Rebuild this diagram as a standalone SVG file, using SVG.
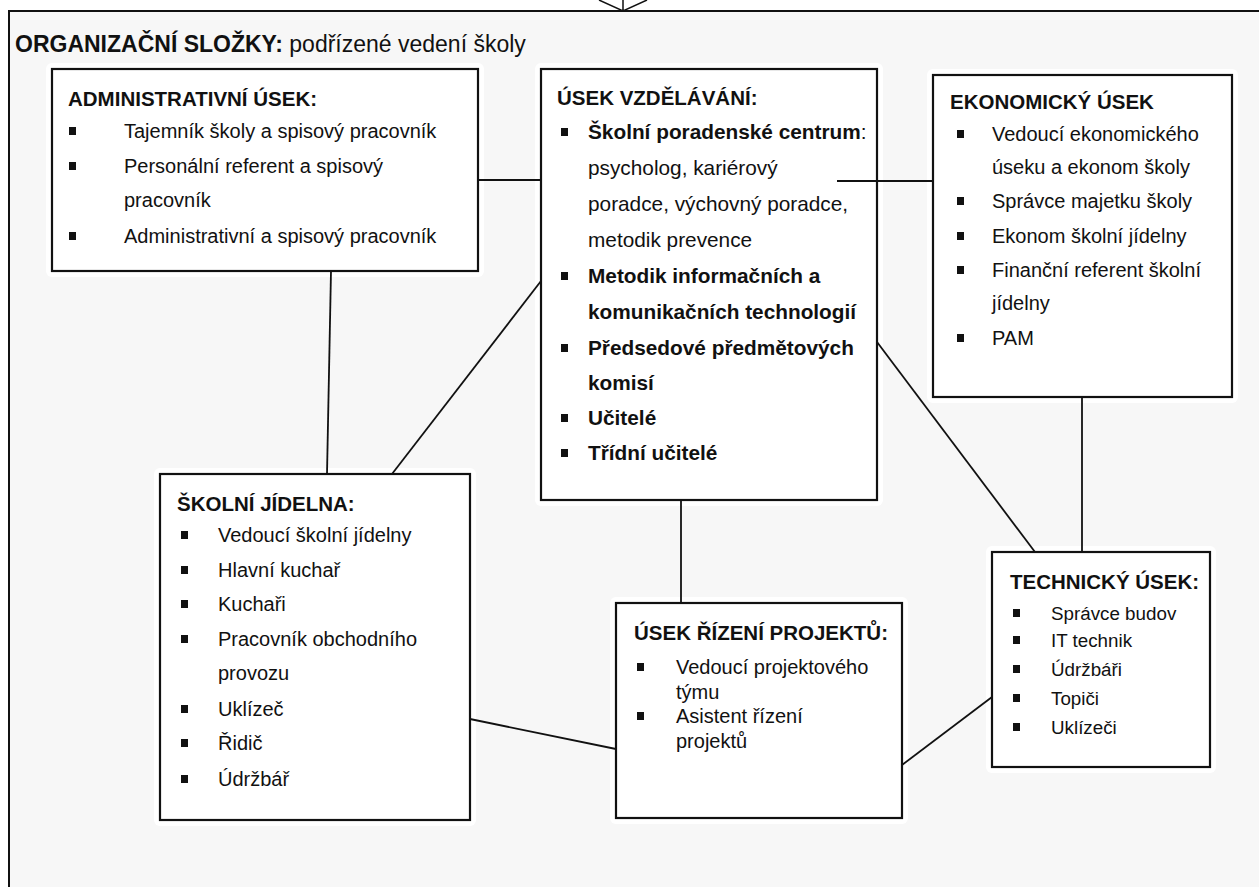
<svg xmlns="http://www.w3.org/2000/svg" width="1259" height="887" viewBox="0 0 1259 887">
<style>
.halo{fill:#ffffff}
.box{fill:#ffffff;stroke:#111111;stroke-width:2.2}
.t{font-family:"Liberation Sans",Arial,sans-serif;font-size:20px;fill:#111111}
.h{font-family:"Liberation Sans",Arial,sans-serif;font-size:20.5px;font-weight:bold;fill:#111111}
.b{font-weight:bold}
.v{font-size:20.8px}
.s{font-size:18.8px}
.conn{stroke:#111111;stroke-width:1.8;fill:none}
</style>
<defs>
<rect id="bul" width="7" height="8" fill="#111111"/>
</defs>
<rect x="0" y="0" width="1259" height="887" fill="#ffffff"/>
<rect x="9" y="11" width="1250" height="876" fill="#f7f7f7"/>
<g id="frame" fill="none" stroke="#111111" stroke-width="2">
<path d="M9,887 V11 H1259"/>
<path d="M623,0 V11 M599,0 L623,11 L647,0" stroke-width="1.5"/>
</g>
<g id="title">
<text x="15" y="52" font-family="Liberation Sans,Arial,sans-serif" font-size="23" fill="#111111"><tspan font-weight="bold">ORGANIZAČNÍ SLOŽKY:</tspan> podřízené vedení školy</text>
</g>
<g id="admin">
<rect class="halo" x="46" y="63" width="438" height="214" rx="6"/>
<rect class="box" x="52" y="69" width="426" height="202"/>
<text class="h" x="68" y="106">ADMINISTRATIVNÍ ÚSEK:</text>
<use href="#bul" x="69" y="127"/><text class="t" x="124" y="138">Tajemník školy a spisový pracovník</text>
<use href="#bul" x="69" y="162"/><text class="t" x="124" y="173">Personální referent a spisový</text>
<text class="t" x="124" y="207">pracovník</text>
<use href="#bul" x="69" y="232"/><text class="t" x="124" y="243">Administrativní a spisový pracovník</text>
</g>
<g id="vzdelavani">
<rect class="halo" x="535" y="63" width="348" height="443" rx="6"/>
<rect class="box" x="541" y="69" width="336" height="431"/>
<text class="h" x="557" y="105">ÚSEK VZDĚLÁVÁNÍ:</text>
<use href="#bul" x="561" y="128"/><text class="t v" x="588" y="139"><tspan class="b">Školní poradenské centrum</tspan>:</text>
<text class="t v" x="588" y="175">psycholog, kariérový</text>
<text class="t v" x="588" y="211">poradce, výchovný poradce,</text>
<text class="t v" x="588" y="247">metodik prevence</text>
<use href="#bul" x="561" y="272"/><text class="t v b" x="588" y="283">Metodik informačních a</text>
<text class="t v b" x="588" y="319">komunikačních technologií</text>
<use href="#bul" x="561" y="344"/><text class="t v b" x="588" y="355">Předsedové předmětových</text>
<text class="t v b" x="588" y="390">komisí</text>
<use href="#bul" x="561" y="414"/><text class="t v b" x="588" y="425">Učitelé</text>
<use href="#bul" x="561" y="449"/><text class="t v b" x="588" y="460">Třídní učitelé</text>
</g>
<g id="ekonomicky">
<rect class="halo" x="927" y="69" width="311" height="334" rx="6"/>
<rect class="box" x="933" y="75" width="299" height="322"/>
<text class="h" x="950" y="109">EKONOMICKÝ ÚSEK</text>
<use href="#bul" x="957" y="130"/><text class="t" x="992" y="141">Vedoucí ekonomického</text>
<text class="t" x="992" y="174">úseku a ekonom školy</text>
<use href="#bul" x="957" y="197"/><text class="t" x="992" y="208">Správce majetku školy</text>
<use href="#bul" x="957" y="232"/><text class="t" x="992" y="243">Ekonom školní jídelny</text>
<use href="#bul" x="957" y="266"/><text class="t" x="992" y="277">Finanční referent školní</text>
<text class="t" x="992" y="310">jídelny</text>
<use href="#bul" x="957" y="334"/><text class="t" x="992" y="345">PAM</text>
</g>
<g id="jidelna">
<rect class="halo" x="154" y="468" width="322" height="358" rx="6"/>
<rect class="box" x="160" y="474" width="310" height="346"/>
<text class="h" x="177" y="511">ŠKOLNÍ JÍDELNA:</text>
<use href="#bul" x="181" y="531"/><text class="t" x="218" y="542">Vedoucí školní jídelny</text>
<use href="#bul" x="181" y="566"/><text class="t" x="218" y="577">Hlavní kuchař</text>
<use href="#bul" x="181" y="600"/><text class="t" x="218" y="611">Kuchaři</text>
<use href="#bul" x="181" y="635"/><text class="t" x="218" y="646">Pracovník obchodního</text>
<text class="t" x="218" y="680">provozu</text>
<use href="#bul" x="181" y="705"/><text class="t" x="218" y="716">Uklízeč</text>
<use href="#bul" x="181" y="739"/><text class="t" x="218" y="750">Řidič</text>
<use href="#bul" x="181" y="775"/><text class="t" x="218" y="786">Údržbář</text>
</g>
<g id="projekty">
<rect class="halo" x="610" y="597" width="298" height="227" rx="6"/>
<rect class="box" x="616" y="603" width="286" height="215"/>
<text class="h" x="634" y="640">ÚSEK ŘÍZENÍ PROJEKTŮ:</text>
<use href="#bul" x="637" y="663"/><text class="t" x="676" y="674">Vedoucí projektového</text>
<text class="t" x="676" y="699">týmu</text>
<use href="#bul" x="637" y="712"/><text class="t" x="676" y="723">Asistent řízení</text>
<text class="t" x="676" y="748">projektů</text>
</g>
<g id="technicky">
<rect class="halo" x="986" y="546" width="230" height="227" rx="6"/>
<rect class="box" x="992" y="552" width="218" height="215"/>
<text class="h" x="1010" y="589" font-size="20">TECHNICKÝ ÚSEK:</text>
<use href="#bul" x="1013" y="609"/><text class="t s" x="1051" y="620">Správce budov</text>
<use href="#bul" x="1013" y="636"/><text class="t s" x="1051" y="647">IT technik</text>
<use href="#bul" x="1013" y="665"/><text class="t s" x="1051" y="676">Údržbáři</text>
<use href="#bul" x="1013" y="694"/><text class="t s" x="1051" y="705">Topiči</text>
<use href="#bul" x="1013" y="723"/><text class="t s" x="1051" y="734">Uklízeči</text>
</g>
<g id="connectors">
<line class="conn" x1="478" y1="180" x2="541" y2="180"/>
<line class="conn" x1="837" y1="181" x2="933" y2="181"/>
<line class="conn" x1="331" y1="271" x2="327" y2="474"/>
<line class="conn" x1="541" y1="281" x2="392" y2="474"/>
<line class="conn" x1="877" y1="342" x2="1035" y2="552"/>
<line class="conn" x1="1082" y1="397" x2="1082" y2="552"/>
<line class="conn" x1="681" y1="500" x2="681" y2="603"/>
<line class="conn" x1="470" y1="719" x2="616" y2="749"/>
<line class="conn" x1="902" y1="765" x2="992" y2="697"/>
</g>
</svg>
